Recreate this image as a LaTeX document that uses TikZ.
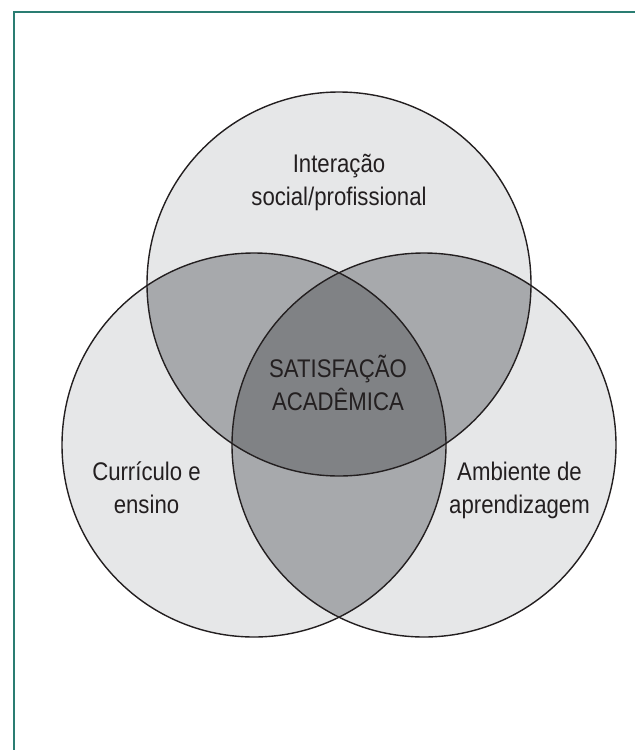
\documentclass[tikz,border=0pt]{standalone}
\usepackage{fontspec}
\setmainfont{Liberation Sans}[FakeStretch=0.87]
\definecolor{framec}{HTML}{2A7D72}
\definecolor{ink}{HTML}{231F20}
\definecolor{gone}{HTML}{E6E7E8}
\definecolor{gtwo}{HTML}{A7A9AC}
\definecolor{gthree}{HTML}{808285}
\begin{document}
\begin{tikzpicture}[x=1pt,y=-1pt,
  lbl/.style={font=\fontsize{25.5}{32.5}\selectfont, text=ink, align=center, inner sep=0pt, anchor=base},
  ring/.style={draw=ink, line width=1.4pt}]
\useasboundingbox (0,0) rectangle (635,750);
\draw[framec, line width=2pt] (14,750) -- (14,12) -- (635,12);
\coordinate (T) at (339,284);
\coordinate (L) at (254,445);
\coordinate (R) at (424,445);
\def\rad{192pt}
\fill[gone] (T) circle[radius=\rad];
\fill[gone] (L) circle[radius=\rad];
\fill[gone] (R) circle[radius=\rad];
\begin{scope}
  \clip (T) circle[radius=\rad];
  \fill[gtwo] (L) circle[radius=\rad];
  \fill[gtwo] (R) circle[radius=\rad];
\end{scope}
\begin{scope}
  \clip (L) circle[radius=\rad];
  \fill[gtwo] (R) circle[radius=\rad];
\end{scope}
\begin{scope}
  \clip (T) circle[radius=\rad];
  \clip (L) circle[radius=\rad];
  \fill[gthree] (R) circle[radius=\rad];
\end{scope}
\draw[ring] (T) circle[radius=\rad];
\draw[ring] (L) circle[radius=\rad];
\draw[ring] (R) circle[radius=\rad];
\node[lbl] (top) at (339,205) {Interação\\social/profissional};
\node[lbl] (mid) at (338,410) {SATISFAÇÃO\\ACADÊMICA};
\node[lbl] (lft) at (146.5,513) {Currículo e\\ensino};
\node[lbl] (rgt) at (519.5,513) {Ambiente de\\aprendizagem};
\end{tikzpicture}
\end{document}
